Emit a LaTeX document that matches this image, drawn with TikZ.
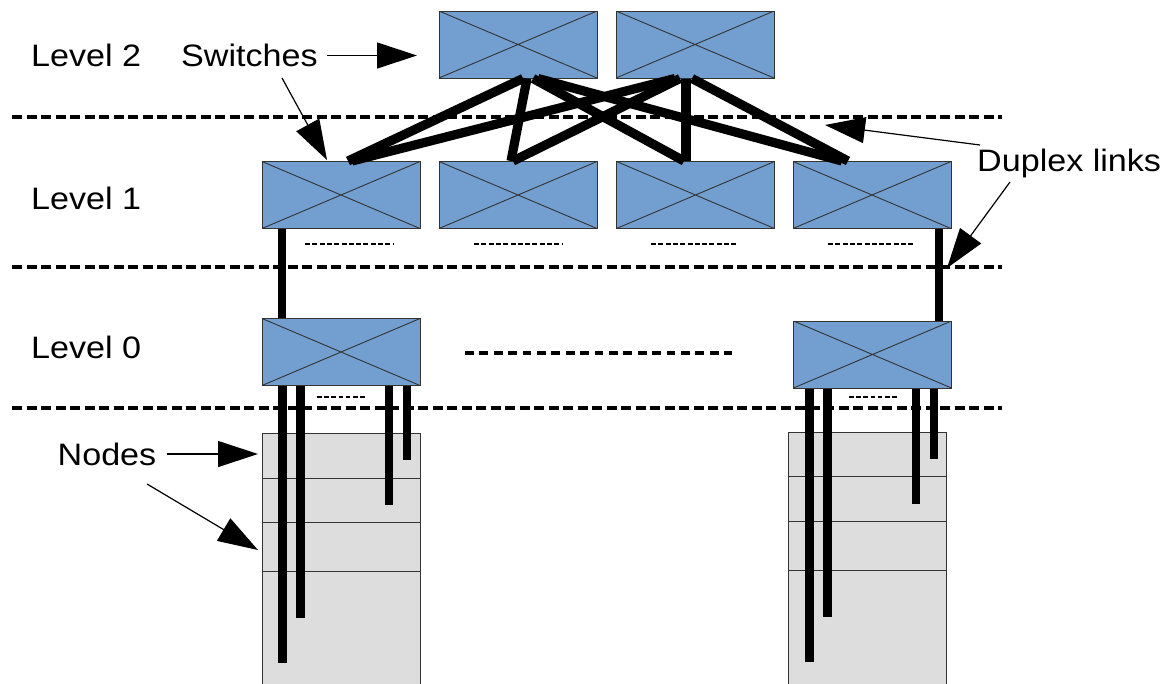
\documentclass[tikz,border=0pt]{standalone}
\usepackage{fontspec}
\setmainfont{Liberation Sans}[FakeStretch=1.1]
\usetikzlibrary{arrows.meta}
\definecolor{swblue}{HTML}{729FCF}
\definecolor{rackgray}{HTML}{DDDDDD}
\definecolor{edgegray}{HTML}{333333}
\tikzset{
  swbox/.style={draw=edgegray, line width=1pt, fill=swblue, minimum width=158pt, minimum height=67pt, inner sep=0pt,
    path picture={\draw[edgegray, line width=0.9pt] (path picture bounding box.north west) -- (path picture bounding box.south east)
      (path picture bounding box.south west) -- (path picture bounding box.north east);}},
  rackbox/.style={draw=edgegray, line width=1pt, fill=rackgray},
  link/.style={line width=9.2pt, black},
  wire/.style={line width=8.3pt, black},
  levelline/.style={line width=4pt, dash pattern=on 10pt off 4.5pt},
  smalldots/.style={line width=2pt, dash pattern=on 5pt off 2.3pt},
  middots/.style={line width=4pt, dash pattern=on 8.7pt off 5.7pt},
  lbl/.style={inner sep=0pt, anchor=base west, font=\fontsize{31}{36}\selectfont},
  arr/.style={line width=1.2pt, -{Triangle[length=40pt,width=26pt]}}
}
\begin{document}
\begin{tikzpicture}[x=1pt,y=-1pt]
\useasboundingbox (0,0) rectangle (1172,683);
\clip (0,0) rectangle (1172,683);
% level separators
\draw[levelline] (12,116.7) -- (1002,116.7);
\draw[levelline] (12,266.7) -- (1002,266.7);
\draw[levelline] (12,408) -- (1002,408);
% racks of nodes
\draw[rackbox] (262,433) rectangle (420,478);
\draw[rackbox] (262,478) rectangle (420,522);
\draw[rackbox] (262,522) rectangle (420,571);
\draw[rackbox] (262,571) rectangle (420,700);
\draw[rackbox] (788,432) rectangle (946,476);
\draw[rackbox] (788,476) rectangle (946,521);
\draw[rackbox] (788,521) rectangle (946,570);
\draw[rackbox] (788,570) rectangle (946,700);
% switches
\node[swbox] (t1) at (518,44.5) {};
\node[swbox] (t2) at (695,44.5) {};
\node[swbox] (s1) at (341,195) {};
\node[swbox] (s2) at (518,195) {};
\node[swbox] (s3) at (695.5,195) {};
\node[swbox] (s4) at (872,195) {};
\node[swbox] (a1) at (341,352) {};
\node[swbox] (a2) at (872.5,354.5) {};
% level 2 - level 1 links
\draw[link] ([xshift=5pt]t1.south) -- ([xshift=7pt]s1.north);
\draw[link] ([xshift=9pt]t1.south) -- ([xshift=-7pt]s2.north);
\draw[link] ([xshift=15pt]t1.south) -- ([xshift=-11.5pt]s3.north);
\draw[link] ([xshift=20pt]t1.south) -- ([xshift=-30pt]s4.north);
\draw[link] ([xshift=-20pt]t2.south) -- ([xshift=11pt]s1.north);
\draw[link] ([xshift=-15pt]t2.south) -- ([xshift=-5pt]s2.north);
\draw[link] ([xshift=-9pt]t2.south) -- ([xshift=-9.5pt]s3.north);
\draw[link] ([xshift=-3pt]t2.south) -- ([xshift=-24pt]s4.north);
% level 1 - level 0 links
\draw[wire] ([xshift=-59pt]s1.south) -- ([xshift=-59pt]a1.north);
\draw[wire] ([xshift=67pt]s4.south) -- ([xshift=66.5pt]a2.north);
% level 0 - nodes wires
\coordinate (w1) at (282.5,663);
\coordinate (w2) at (300.5,618);
\coordinate (w3) at (389,505);
\coordinate (w4) at (407,460);
\coordinate (w5) at (809.5,662);
\coordinate (w6) at (827.5,617);
\coordinate (w7) at (916,504);
\coordinate (w8) at (934,459);
\foreach \w in {w1,w2,w3,w4} \draw[wire] (a1.south -| \w) -- (\w);
\foreach \w in {w5,w6,w7,w8} \draw[wire] (a2.south -| \w) -- (\w);
% small dotted hints
\draw[smalldots] (305,244) -- (393,244);
\draw[smalldots] (474,244) -- (562,244);
\draw[smalldots] (651,244) -- (738,244);
\draw[smalldots] (828,244) -- (915,244);
\draw[line width=2pt, dash pattern=on 4.5pt off 2.7pt] (317,397) -- (365,397);
\draw[line width=2pt, dash pattern=on 4.5pt off 2.7pt] (849,397) -- (897,397);
\draw[middots] (465,353) -- (732,353);
% labels
\node[lbl] (lv2) at (31,66.5) {Level 2};
\node[lbl] (lv1) at (31,209) {Level 1};
\node[lbl] (lv0) at (31,358.3) {Level 0};
\node[lbl] (swl) at (181,66.5) {Switches};
\node[lbl] (dxl) at (977,171.5) {Duplex links};
\node[lbl] (ndl) at (57.5,465) {Nodes};
% annotation arrows
\coordinate (sa1) at (327,55.5);  \coordinate (sa1t) at (417,55.5);
\coordinate (sa2) at (282,78);    \coordinate (sa2t) at (327,160);
\coordinate (da1) at (980,145);   \coordinate (da1t) at (825,125);
\coordinate (da2) at (1010,182);  \coordinate (da2t) at (947,268);
\coordinate (na1) at (167,454);   \coordinate (na1t) at (258,454);
\coordinate (na2) at (147,484);   \coordinate (na2t) at (258,550);
\draw[arr] (sa1) -- (sa1t);
\draw[arr] (sa2) -- (sa2t);
\draw[arr] (da1) -- (da1t);
\draw[arr] (da2) -- (da2t);
\draw[arr] (na1) -- (na1t);
\draw[arr] (na2) -- (na2t);
\end{tikzpicture}
\end{document}
